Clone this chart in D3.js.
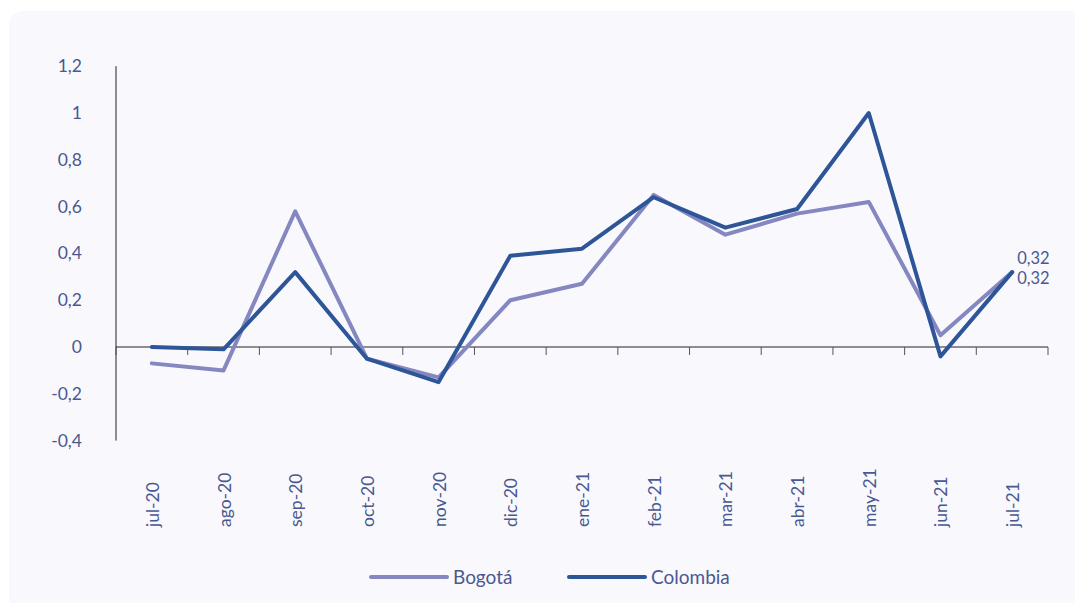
<!DOCTYPE html>
<html>
<head>
<meta charset="utf-8">
<script src="https://cdn.jsdelivr.net/npm/d3@7"></script>
<style>
  html, body { margin: 0; padding: 0; background: #ffffff; }
  svg { display: block; }
  text { font-family: "Lato", "Open Sans", sans-serif; font-weight: 400; }
</style>
</head>
<body>
<script>
const categories = ["jul-20","ago-20","sep-20","oct-20","nov-20","dic-20","ene-21","feb-21","mar-21","abr-21","may-21","jun-21","jul-21"];
const bogota   = [-0.07, -0.10, 0.58, -0.05, -0.13, 0.20, 0.27, 0.65, 0.48, 0.57, 0.62, 0.05, 0.32];
const colombia = [0.00, -0.01, 0.32, -0.05, -0.15, 0.39, 0.42, 0.64, 0.51, 0.59, 1.00, -0.04, 0.32];
const yTicks = [-0.4, -0.2, 0, 0.2, 0.4, 0.6, 0.8, 1, 1.2];
const seriesNames = ["Bogotá", "Colombia"];

const W = 1075, H = 603;
const colors = { "Bogotá": "#8587c1", "Colombia": "#2d5597" };
const textColor = "#4a5891";

const svg = d3.select("body").append("svg").attr("width", W).attr("height", H);

svg.append("rect").attr("x", 9).attr("y", 11).attr("width", W + 20).attr("height", H + 20)
  .attr("rx", 14).attr("fill", "#f9f9fd");

const x = d3.scaleBand().domain(categories).range([116, 1048]);
const y = d3.scaleLinear().domain([-0.4, 1.2]).range([440.6, 66.2]);

const fmt = v => String(Math.round(v * 100) / 100).replace(".", ",");

// y axis
svg.append("line").attr("x1", 116).attr("x2", 116).attr("y1", y(1.2)).attr("y2", y(-0.4))
  .attr("stroke", "#222").attr("stroke-width", 1);
svg.selectAll(".ylab").data(yTicks).enter().append("text")
  .attr("x", 82).attr("y", d => y(d) + 6)
  .attr("text-anchor", "end").attr("font-size", 17.5).attr("fill", textColor)
  .text(d => fmt(d));

// x axis at 0
svg.append("line").attr("x1", 116).attr("x2", 1048).attr("y1", y(0)).attr("y2", y(0))
  .attr("stroke", "#222").attr("stroke-width", 1);
const tickPos = categories.map(c => x(c)).concat([x.range()[1]]);
svg.selectAll(".xt").data(tickPos).enter().append("line")
  .attr("x1", d => d).attr("x2", d => d).attr("y1", y(0)).attr("y2", y(0) + 8)
  .attr("stroke", "#555").attr("stroke-width", 1);

svg.selectAll(".xlab").data(categories).enter().append("text")
  .attr("transform", d => `translate(${x(d) + x.bandwidth() / 2 + 7},527) rotate(-90)`)
  .attr("text-anchor", "start").attr("font-size", 17.5).attr("fill", textColor)
  .text(d => d);

// lines
const line = d3.line().x((d, i) => x(categories[i]) + x.bandwidth() / 2).y(d => y(d));
const data = { "Bogotá": bogota, "Colombia": colombia };
seriesNames.forEach(name => {
  svg.append("path").datum(data[name]).attr("d", line)
    .attr("fill", "none").attr("stroke", colors[name]).attr("stroke-width", 4)
    .attr("stroke-linejoin", "round").attr("stroke-linecap", "round");
});

// end labels
const lastX = x(categories[categories.length - 1]) + x.bandwidth() / 2;
svg.append("text").attr("x", lastX + 5).attr("y", y(bogota[12]) - 8)
  .attr("font-size", 16.5).attr("fill", textColor).text(fmt(bogota[12]));
svg.append("text").attr("x", lastX + 5).attr("y", y(colombia[12]) + 12)
  .attr("font-size", 16.5).attr("fill", textColor).text(fmt(colombia[12]));

// legend
const legX = [371, 569];
seriesNames.forEach((name, i) => {
  svg.append("line").attr("x1", legX[i]).attr("x2", legX[i] + 76).attr("y1", 577).attr("y2", 577)
    .attr("stroke", colors[name]).attr("stroke-width", 4).attr("stroke-linecap", "round");
  svg.append("text").attr("x", legX[i] + 82).attr("y", 584)
    .attr("font-size", 19).attr("fill", textColor).text(name);
});
</script>
</body>
</html>
